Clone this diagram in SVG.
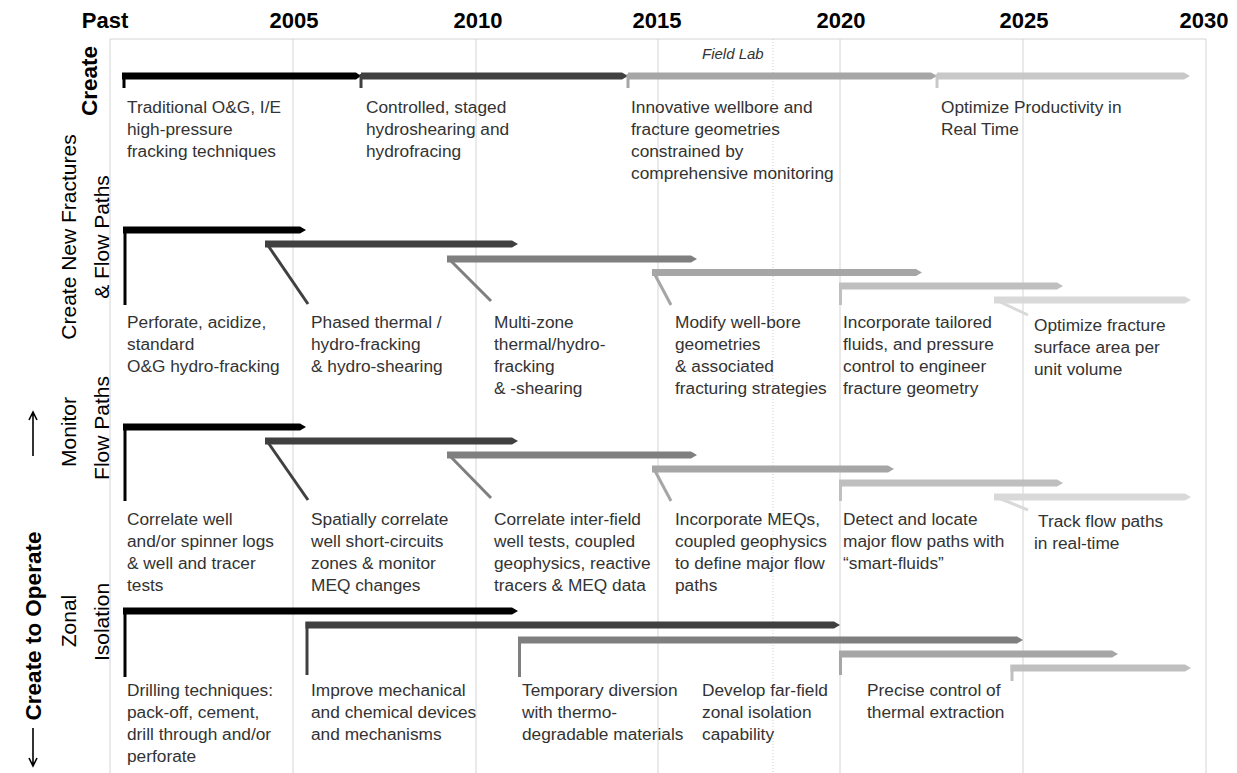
<svg xmlns="http://www.w3.org/2000/svg" width="1237" height="773" viewBox="0 0 1237 773">
<style>
.grid{stroke:#d4d4d4;stroke-width:1;fill:none}
.dot{stroke:#cfcfcf;stroke-width:1;stroke-dasharray:1 2;fill:none}
.yr{font-family:"Liberation Sans",Arial,sans-serif;font-weight:bold;font-size:22px;fill:#000;text-anchor:middle}
.lbl{font-family:"Liberation Sans",Arial,sans-serif;font-size:17.3px;fill:#333}
.ax{font-family:"Liberation Sans",Arial,sans-serif;font-size:21px;fill:#000;text-anchor:middle}
.axb{font-family:"Liberation Sans",Arial,sans-serif;font-size:22.5px;font-weight:bold;fill:#000;text-anchor:middle}
.it{font-family:"Liberation Sans",Arial,sans-serif;font-size:15px;font-style:italic;fill:#333}
.c0{fill:#000;stroke:#000}
.c1{fill:#404040;stroke:#404040}
.c2{fill:#7f7f7f;stroke:#7f7f7f}
.c3{fill:#a6a6a6;stroke:#a6a6a6}
.c4{fill:#bfbfbf;stroke:#bfbfbf}
.c5{fill:#d9d9d9;stroke:#d9d9d9}
.bar{stroke-width:0}
.ld{fill:none;stroke-width:3}
</style>
<rect width="1237" height="773" fill="#fff"/>
<g id="grid">
<line class="grid" x1="110" y1="39" x2="1206" y2="39"/>
<line class="grid" x1="110" y1="39" x2="110" y2="773"/>
<line class="grid" x1="293" y1="39" x2="293" y2="773"/>
<line class="grid" x1="476" y1="39" x2="476" y2="773"/>
<line class="grid" x1="658" y1="39" x2="658" y2="773"/>
<line class="dot" x1="773" y1="39" x2="773" y2="773"/>
<line class="grid" x1="840" y1="39" x2="840" y2="773"/>
<line class="grid" x1="1023" y1="39" x2="1023" y2="773"/>
<line class="grid" x1="1206" y1="39" x2="1206" y2="773"/>
</g>
<g id="years">
<text class="yr" x="105" y="28">Past</text>
<text class="yr" x="294" y="28">2005</text>
<text class="yr" x="478" y="28">2010</text>
<text class="yr" x="657" y="28">2015</text>
<text class="yr" x="841" y="28">2020</text>
<text class="yr" x="1024" y="28">2025</text>
<text class="yr" x="1204" y="28">2030</text>
</g>
<g id="axis-labels">
<text class="axb" transform="translate(97,81) rotate(-90)">Create</text>
<text class="ax" transform="translate(76,237) rotate(-90)">Create New Fractures</text>
<text class="ax" transform="translate(109,237) rotate(-90)">&amp; Flow Paths</text>
<text class="ax" transform="translate(76,432) rotate(-90)">Monitor</text>
<text class="ax" transform="translate(109,428) rotate(-90)">Flow Paths</text>
<text class="ax" transform="translate(76,621) rotate(-90)">Zonal</text>
<text class="ax" transform="translate(109,622) rotate(-90)">Isolation</text>
<text class="axb" transform="translate(41,626) rotate(-90)">Create to Operate</text>
<path d="M33 728 V765 M29 758 L33 766 L37 758" fill="none" stroke="#000" stroke-width="1.6"/>
<path d="M33 456 V413 M29 420 L33 412 L37 420" fill="none" stroke="#000" stroke-width="1.6"/>
</g>
<g id="field-lab"><text class="it" x="702" y="59">Field Lab</text></g>
<g id="connectors"/>
<!-- Create row -->
<g id="create-1">
<polygon class="c0 bar" points="122,72.5 356,72.5 361,76 356,79.5 122,79.5"/>
<line class="c0 ld" x1="124" y1="73" x2="124" y2="88"/>
<text class="lbl" x="127" y="113"><tspan x="127">Traditional O&amp;G, I/E</tspan><tspan x="127" dy="22">high-pressure</tspan><tspan x="127" dy="22">fracking techniques</tspan></text>
</g>
<g id="create-2">
<polygon class="c1 bar" points="361,72.5 622,72.5 628,76 622,79.5 361,79.5"/>
<line class="c1 ld" x1="361" y1="74" x2="361" y2="88" stroke-width="2"/>
<text class="lbl" x="366" y="113"><tspan x="366">Controlled, staged</tspan><tspan x="366" dy="22">hydroshearing and</tspan><tspan x="366" dy="22">hydrofracing</tspan></text>
</g>
<g id="create-3">
<polygon class="c3 bar" points="628,72.5 931,72.5 937,76 931,79.5 628,79.5"/>
<line class="c3 ld" x1="628" y1="74" x2="628" y2="88" stroke-width="2"/>
<text class="lbl" x="631" y="113"><tspan x="631">Innovative wellbore and</tspan><tspan x="631" dy="22">fracture geometries</tspan><tspan x="631" dy="22">constrained by</tspan><tspan x="631" dy="22">comprehensive monitoring</tspan></text>
</g>
<g id="create-4">
<polygon class="c5 bar" points="937,72.5 1184,72.5 1190,76 1184,79.5 937,79.5" style="fill:#c8c8c8"/>
<line class="ld" x1="937" y1="74" x2="937" y2="88" stroke="#c8c8c8" stroke-width="2"/>
<text class="lbl" x="941" y="113"><tspan x="941">Optimize Productivity in</tspan><tspan x="941" dy="22">Real Time</tspan></text>
</g>
<!-- Fractures row -->
<g id="frac-1">
<polygon class="c0 bar" points="123,226.5 300,226.5 306,230 300,233.5 123,233.5"/>
<line class="c0 ld" x1="125" y1="227" x2="125" y2="305" stroke-width="3.5"/>
<text class="lbl" x="127" y="328"><tspan x="127">Perforate, acidize,</tspan><tspan x="127" dy="22">standard</tspan><tspan x="127" dy="22">O&amp;G hydro-fracking</tspan></text>
</g>
<g id="frac-2">
<polygon class="c1 bar" points="265,240.5 512,240.5 518,244 512,247.5 265,247.5"/>
<line class="c1 ld" x1="267" y1="244" x2="308" y2="304"/>
<text class="lbl" x="311" y="328"><tspan x="311">Phased thermal /</tspan><tspan x="311" dy="22">hydro-fracking</tspan><tspan x="311" dy="22">&amp; hydro-shearing</tspan></text>
</g>
<g id="frac-3">
<polygon class="c2 bar" points="447,255.5 691,255.5 697,259 691,262.5 447,262.5"/>
<line class="c2 ld" x1="449" y1="259" x2="491" y2="301"/>
<text class="lbl" x="494" y="328"><tspan x="494">Multi-zone</tspan><tspan x="494" dy="22">thermal/hydro-</tspan><tspan x="494" dy="22">fracking</tspan><tspan x="494" dy="22">&amp; -shearing</tspan></text>
</g>
<g id="frac-4">
<polygon class="c3 bar" points="652,269 916,269 922,272.5 916,276 652,276"/>
<line class="c3 ld" x1="654" y1="273" x2="671" y2="305"/>
<text class="lbl" x="675" y="328"><tspan x="675">Modify well-bore</tspan><tspan x="675" dy="22">geometries</tspan><tspan x="675" dy="22">&amp; associated</tspan><tspan x="675" dy="22">fracturing strategies</tspan></text>
</g>
<g id="frac-5">
<polygon class="c4 bar" points="839,282.5 1057,282.5 1063,286 1057,289.5 839,289.5"/>
<line class="c4 ld" x1="840.5" y1="286" x2="840.5" y2="305"/>
<text class="lbl" x="843" y="328"><tspan x="843">Incorporate tailored</tspan><tspan x="843" dy="22">fluids, and pressure</tspan><tspan x="843" dy="22">control to engineer</tspan><tspan x="843" dy="22">fracture geometry</tspan></text>
</g>
<g id="frac-6">
<polygon class="c5 bar" points="994,296.5 1185,296.5 1191,300 1185,303.5 994,303.5"/>
<line class="c5 ld" x1="996" y1="300" x2="1028" y2="315"/>
<text class="lbl" x="1034" y="331"><tspan x="1034">Optimize fracture</tspan><tspan x="1034" dy="22">surface area per</tspan><tspan x="1034" dy="22">unit volume</tspan></text>
</g>
<!-- Monitor row -->
<g id="mon-1">
<polygon class="c0 bar" points="123,423.5 300,423.5 306,427 300,430.5 123,430.5"/>
<line class="c0 ld" x1="125" y1="424" x2="125" y2="501" stroke-width="3.5"/>
<text class="lbl" x="127" y="525"><tspan x="127">Correlate well</tspan><tspan x="127" dy="22">and/or spinner logs</tspan><tspan x="127" dy="22">&amp; well and tracer</tspan><tspan x="127" dy="22">tests</tspan></text>
</g>
<g id="mon-2">
<polygon class="c1 bar" points="265,437.5 512,437.5 518,441 512,444.5 265,444.5"/>
<line class="c1 ld" x1="267" y1="441" x2="308" y2="500"/>
<text class="lbl" x="311" y="525"><tspan x="311">Spatially correlate</tspan><tspan x="311" dy="22">well short-circuits</tspan><tspan x="311" dy="22">zones &amp; monitor</tspan><tspan x="311" dy="22">MEQ changes</tspan></text>
</g>
<g id="mon-3">
<polygon class="c2 bar" points="447,451.5 691,451.5 697,455 691,458.5 447,458.5"/>
<line class="c2 ld" x1="449" y1="455" x2="491" y2="498"/>
<text class="lbl" x="494" y="525"><tspan x="494">Correlate inter-field</tspan><tspan x="494" dy="22">well tests, coupled</tspan><tspan x="494" dy="22">geophysics, reactive</tspan><tspan x="494" dy="22">tracers &amp; MEQ data</tspan></text>
</g>
<g id="mon-4">
<polygon class="c3 bar" points="652,465.5 888,465.5 894,469 888,472.5 652,472.5"/>
<line class="c3 ld" x1="654" y1="469" x2="671" y2="501"/>
<text class="lbl" x="675" y="525"><tspan x="675">Incorporate MEQs,</tspan><tspan x="675" dy="22">coupled geophysics</tspan><tspan x="675" dy="22">to define major flow</tspan><tspan x="675" dy="22">paths</tspan></text>
</g>
<g id="mon-5">
<polygon class="c4 bar" points="839,479.5 1057,479.5 1063,483 1057,486.5 839,486.5"/>
<line class="c4 ld" x1="840.5" y1="483" x2="840.5" y2="501"/>
<text class="lbl" x="843" y="525"><tspan x="843">Detect and locate</tspan><tspan x="843" dy="22">major flow paths with</tspan><tspan x="843" dy="22">“smart-fluids”</tspan></text>
</g>
<g id="mon-6">
<polygon class="c5 bar" points="994,493.5 1185,493.5 1191,497 1185,500.5 994,500.5"/>
<line class="c5 ld" x1="996" y1="497" x2="1028" y2="510"/>
<text class="lbl" x="1038" y="527"><tspan x="1038">Track flow paths</tspan><tspan x="1034" dy="22">in real-time</tspan></text>
</g>
<!-- Zonal row -->
<g id="zone-1">
<polygon class="c0 bar" points="123,607.5 512,607.5 518,611 512,614.5 123,614.5"/>
<line class="c0 ld" x1="125" y1="608" x2="125" y2="677" stroke-width="3.5"/>
<text class="lbl" x="127" y="696"><tspan x="127">Drilling techniques:</tspan><tspan x="127" dy="22">pack-off, cement,</tspan><tspan x="127" dy="22">drill through and/or</tspan><tspan x="127" dy="22">perforate</tspan></text>
</g>
<g id="zone-2">
<polygon class="c1 bar" points="305.5,621.5 834,621.5 840,625 834,628.5 305.5,628.5"/>
<line class="c1 ld" x1="307" y1="622" x2="307" y2="675"/>
<text class="lbl" x="311" y="696"><tspan x="311">Improve mechanical</tspan><tspan x="311" dy="22">and chemical devices</tspan><tspan x="311" dy="22">and mechanisms</tspan></text>
</g>
<g id="zone-3">
<polygon class="c2 bar" points="518,636.5 1017,636.5 1023,640 1017,643.5 518,643.5"/>
<line class="c2 ld" x1="519.5" y1="637" x2="519.5" y2="677"/>
<text class="lbl" x="522" y="696"><tspan x="522">Temporary diversion</tspan><tspan x="522" dy="22">with thermo-</tspan><tspan x="522" dy="22">degradable materials</tspan></text>
</g>
<g id="zone-4">
<text class="lbl" x="702" y="696"><tspan x="702">Develop far-field</tspan><tspan x="702" dy="22">zonal isolation</tspan><tspan x="702" dy="22">capability</tspan></text>
</g>
<g id="zone-5">
<polygon class="c3 bar" points="839,650.5 1112,650.5 1118,654 1112,657.5 839,657.5"/>
<line class="c3 ld" x1="840.5" y1="651" x2="840.5" y2="675"/>
<text class="lbl" x="867" y="696"><tspan x="867">Precise control of</tspan><tspan x="867" dy="22">thermal extraction</tspan></text>
</g>
<g id="zone-6">
<polygon class="c4 bar" points="1010.5,664.5 1185,664.5 1191,668 1185,671.5 1010.5,671.5"/>
<line class="c4 ld" x1="1012" y1="665" x2="1012" y2="681"/>
</g>
</svg>
